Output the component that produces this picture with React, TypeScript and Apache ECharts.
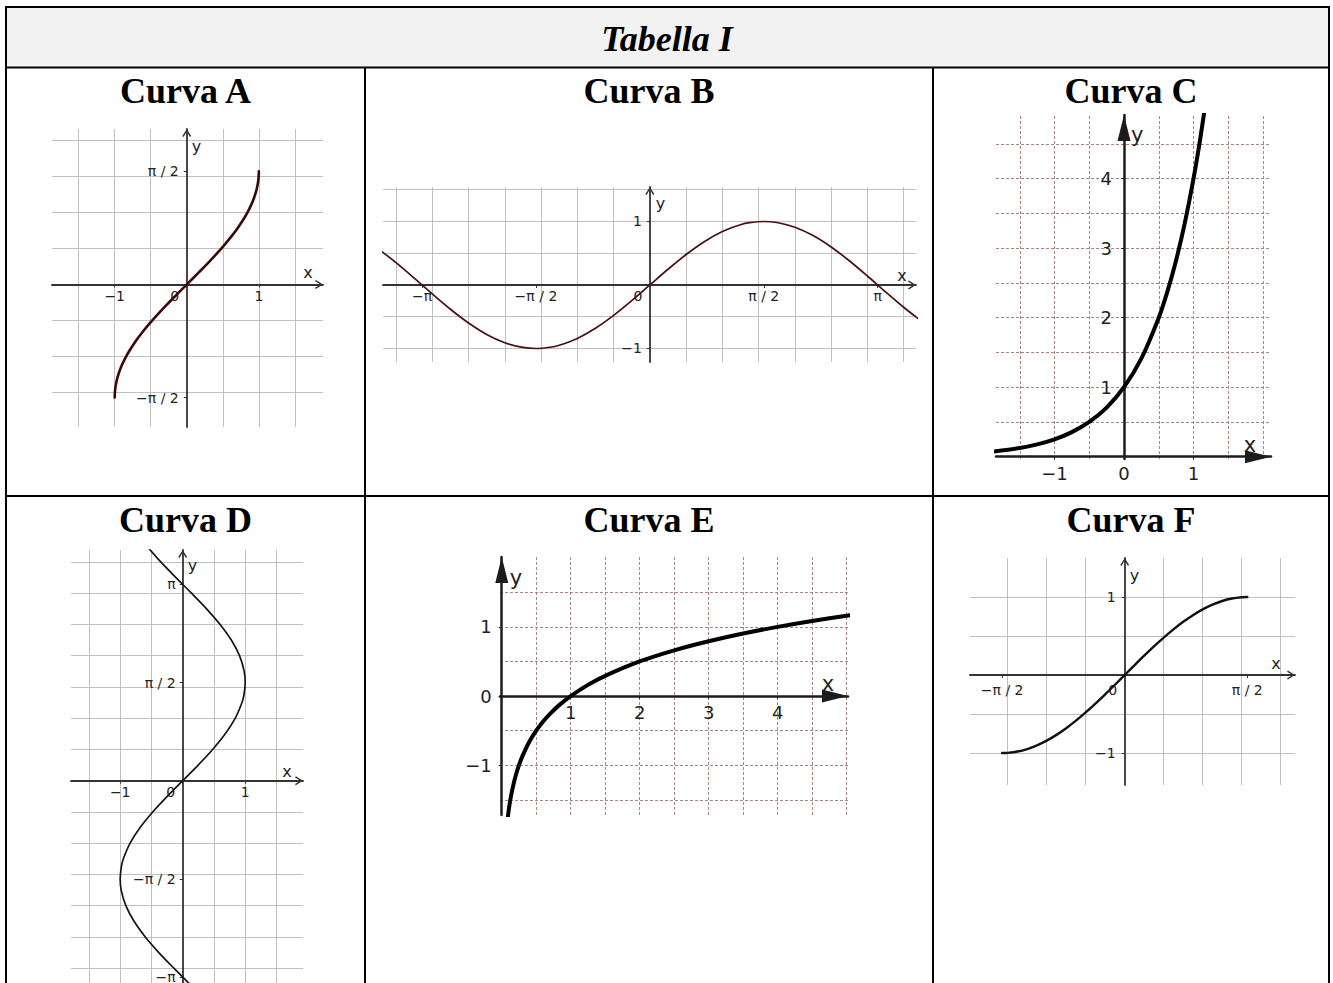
import React, { useEffect, useRef } from 'react';
import * as echarts from 'echarts';

// ---------------- texts ----------------
const TABLE_TITLE = 'Tabella I';
const CURVE_NAMES = ['Curva A', 'Curva B', 'Curva C', 'Curva D', 'Curva E', 'Curva F'];

// ---------------- curve data ----------------
const CURVE_A = [
  [-1, -1.5708], [-0.998, -1.5075], [-0.99, -1.4293], [-0.97, -1.3252], [-0.94, -1.2226],
  [-0.9, -1.1198], [-0.85, -1.016], [-0.8, -0.9273], [-0.7, -0.7754], [-0.6, -0.6435],
  [-0.5, -0.5236], [-0.4, -0.4115], [-0.3, -0.3047], [-0.2, -0.2014], [-0.1, -0.1002],
  [0, 0], [0.1, 0.1002], [0.2, 0.2014], [0.3, 0.3047], [0.4, 0.4115], [0.5, 0.5236],
  [0.6, 0.6435], [0.7, 0.7754], [0.8, 0.9273], [0.85, 1.016], [0.9, 1.1198], [0.94, 1.2226],
  [0.97, 1.3252], [0.99, 1.4293], [0.998, 1.5075], [1, 1.5708],
];
const CURVE_B = [
  [-3.7, 0.5298], [-3.5, 0.3508], [-3.25, 0.1082], [-3, -0.1411], [-2.75, -0.3817],
  [-2.5, -0.5985], [-2.25, -0.7781], [-2, -0.9093], [-1.75, -0.984], [-1.5708, -1],
  [-1.375, -0.9809], [-1.25, -0.949], [-1, -0.8415], [-0.75, -0.6816], [-0.5, -0.4794], [-0.25, -0.2474],
  [0, 0], [0.25, 0.2474], [0.5, 0.4794], [0.75, 0.6816], [1, 0.8415], [1.25, 0.949], [1.375, 0.9809],
  [1.5708, 1], [1.75, 0.984], [2, 0.9093], [2.25, 0.7781], [2.5, 0.5985], [2.75, 0.3817],
  [3, 0.1411], [3.25, -0.1082], [3.5, -0.3508], [3.7, -0.5298],
];
const CURVE_C = [
  [-1.9, 0.072], [-1.5, 0.125], [-1.25, 0.177], [-1, 0.25], [-0.75, 0.354], [-0.5, 0.5],
  [-0.25, 0.707], [0, 1], [0.25, 1.414], [0.5, 2], [0.625, 2.378], [0.75, 2.828],
  [0.875, 3.364], [1, 4], [1.1, 4.595], [1.2, 5.278],
];
const CURVE_D = [
  [0.5716, -3.75], [0.3508, -3.5], [0.1082, -3.25], [-0.1411, -3], [-0.3817, -2.75],
  [-0.5985, -2.5], [-0.7781, -2.25], [-0.9093, -2], [-0.984, -1.75], [-1, -1.5708],
  [-0.9809, -1.375], [-0.949, -1.25], [-0.8415, -1], [-0.6816, -0.75], [-0.4794, -0.5], [-0.2474, -0.25],
  [0, 0], [0.2474, 0.25], [0.4794, 0.5], [0.6816, 0.75], [0.8415, 1], [0.949, 1.25], [0.9809, 1.375],
  [1, 1.5708], [0.984, 1.75], [0.9093, 2], [0.7781, 2.25], [0.5985, 2.5], [0.3817, 2.75],
  [0.1411, 3], [-0.1082, 3.25], [-0.3508, 3.5], [-0.5716, 3.75],
];
const CURVE_E = [
  [0.06, -2.029], [0.07, -1.918], [0.08, -1.822], [0.1, -1.661], [0.12, -1.529],
  [0.15, -1.368], [0.2, -1.161], [0.25, -1.0], [0.3, -0.868], [0.4, -0.661], [0.5, -0.5],
  [0.6, -0.368], [0.7, -0.257], [0.85, -0.117], [1, 0], [1.25, 0.161], [1.5, 0.292],
  [2, 0.5], [2.5, 0.661], [3, 0.792], [3.5, 0.904], [4, 1], [4.5, 1.085], [5, 1.161],
  [5.1, 1.175],
];
const CURVE_F = [
  [-1.5708, -1], [-1.5, -0.9975], [-1.375, -0.9809], [-1.25, -0.949], [-1.125, -0.9022],
  [-1, -0.8415], [-0.875, -0.7675], [-0.75, -0.6816], [-0.625, -0.5851], [-0.5, -0.4794],
  [-0.375, -0.3663], [-0.25, -0.2474], [-0.125, -0.1247], [0, 0], [0.125, 0.1247],
  [0.25, 0.2474], [0.375, 0.3663], [0.5, 0.4794], [0.625, 0.5851], [0.75, 0.6816],
  [0.875, 0.7675], [1, 0.8415], [1.125, 0.9022], [1.25, 0.949], [1.375, 0.9809],
  [1.5, 0.9975], [1.5708, 1],
];

// ---------------- grid lines ----------------
const A_GRID_X = [-1.5, -1, -0.5, 0.5, 1, 1.5];
const A_GRID_Y = [-1.5, -1, -0.5, 0.5, 1, 1.5, 2];
const B_GRID_X = [-3.5, -3, -2.5, -2, -1.5, -1, -0.5, 0.5, 1, 1.5, 2, 2.5, 3, 3.5];
const B_GRID_Y = [-1, -0.5, 0.5, 1, 1.5];
const C_GRID_X = [-1.5, -1, -0.5, 0.5, 1, 1.5, 2];
const C_GRID_Y = [0.5, 1, 1.5, 2, 2.5, 3, 3.5, 4, 4.5];
const D_GRID_X = [-1.5, -1, -0.5, 0.5, 1, 1.5];
const D_GRID_Y = [-3, -2.5, -2, -1.5, -1, -0.5, 0.5, 1, 1.5, 2, 2.5, 3, 3.5];
const E_GRID_X = [0.5, 1, 1.5, 2, 2.5, 3, 3.5, 4, 4.5, 5];
const E_GRID_Y = [-1.5, -1, -0.5, 0.5, 1, 1.5];
const F_GRID_X = [-1.5, -1, -0.5, 0.5, 1, 1.5, 2];
const F_GRID_Y = [-1, -0.5, 0.5, 1];

// ---------------- tick labels ----------------
const A_X_TICKS = [-1, 0, 1];
const A_X_LABELS = ['−1', '0', '1'];
const A_Y_TICKS = [-1.5708, 1.5708];
const A_Y_LABELS = ['−π / 2', 'π / 2'];
const B_X_TICKS = [-3.1416, -1.5708, 0, 1.5708, 3.1416];
const B_X_LABELS = ['−π', '−π / 2', '0', 'π / 2', 'π'];
const B_Y_TICKS = [-1, 1];
const B_Y_LABELS = ['−1', '1'];
const C_X_TICKS = [-1, 0, 1];
const C_X_LABELS = ['−1', '0', '1'];
const C_Y_TICKS = [1, 2, 3, 4];
const C_Y_LABELS = ['1', '2', '3', '4'];
const D_X_TICKS = [-1, 0, 1];
const D_X_LABELS = ['−1', '0', '1'];
const D_Y_TICKS = [-3.1416, -1.5708, 1.5708, 3.1416];
const D_Y_LABELS = ['−π', '−π / 2', 'π / 2', 'π'];
const E_X_TICKS = [1, 2, 3, 4];
const E_X_LABELS = ['1', '2', '3', '4'];
const E_Y_TICKS = [-1, 0, 1];
const E_Y_LABELS = ['−1', '0', '1'];
const F_X_TICKS = [-1.5708, 0, 1.5708];
const F_X_LABELS = ['−π / 2', '0', 'π / 2'];
const F_Y_TICKS = [-1, 1];
const F_Y_LABELS = ['−1', '1'];

// ---------------- layout / style of each small plot ----------------
const PLOTS = [
  { box: [52, 129, 271, 298], xr: [-1.87, 1.89], yr: [-1.98, 2.16], gx: A_GRID_X, gy: A_GRID_Y,
    xt: A_X_TICKS, xl: A_X_LABELS, yt: A_Y_TICKS, yl: A_Y_LABELS, pts: CURVE_A, heavy: false,
    color: '#3d0707', lw: 2.6, xm: 5, ym: 8, xn: [15, 12], yn: [5, 17] },
  { box: [383, 187, 533, 175], xr: [-3.68, 3.67], yr: [-1.213, 1.543], gx: B_GRID_X, gy: B_GRID_Y,
    xt: B_X_TICKS, xl: B_X_LABELS, yt: B_Y_TICKS, yl: B_Y_LABELS, pts: CURVE_B, heavy: false,
    color: '#4a1010', lw: 1.7, xm: 4, ym: 8, xn: [14, 9], yn: [6, 16] },
  { box: [996, 115, 275, 344], xr: [-1.842, 2.115], yr: [-0.033, 4.917], gx: C_GRID_X, gy: C_GRID_Y,
    xt: C_X_TICKS, xl: C_X_LABELS, yt: C_Y_TICKS, yl: C_Y_LABELS, pts: CURVE_C, heavy: true,
    color: '#000000', lw: 4, xm: 8, ym: 12, xn: [21, 12], yn: [7, 20] },
  { box: [71, 550, 232, 433], xr: [-1.787, 1.925], yr: [-3.237, 3.691], gx: D_GRID_X, gy: D_GRID_Y,
    xt: D_X_TICKS, xl: D_X_LABELS, yt: D_Y_TICKS, yl: D_Y_LABELS, pts: CURVE_D, heavy: false,
    color: '#151515', lw: 1.7, xm: 4, ym: 7, xn: [16, 9], yn: [5, 15] },
  { box: [500, 557, 348, 258], xr: [-0.025, 5.02], yr: [-1.72, 2.01], gx: E_GRID_X, gy: E_GRID_Y,
    xt: E_X_TICKS, xl: E_X_LABELS, yt: E_Y_TICKS, yl: E_Y_LABELS, pts: CURVE_E, heavy: true,
    color: '#000000', lw: 4, xm: 7, ym: 10, xn: [20, 12], yn: [8, 21] },
  { box: [970, 558, 325, 227], xr: [-1.983, 2.183], yr: [-1.41, 1.5], gx: F_GRID_X, gy: F_GRID_Y,
    xt: F_X_TICKS, xl: F_X_LABELS, yt: F_Y_TICKS, yl: F_Y_LABELS, pts: CURVE_F, heavy: false,
    color: '#111111', lw: 2.4, xm: 8, ym: 9, xn: [19, 12], yn: [5, 17] },
];

const CHEVRON = 'path://M5,0 L10,8 L8.6,9 L5,2.8 L1.4,9 L0,8 Z';
const SERIF = '"Liberation Serif", "Times New Roman", serif';
const SANS = '"DejaVu Sans", sans-serif';

function buildOption() {
  const grid: any[] = [];
  const xAxis: any[] = [];
  const yAxis: any[] = [];
  const series: any[] = [];

  PLOTS.forEach((p, i) => {
    const [left, top, width, height] = p.box;
    grid.push({ left, top, width, height, containLabel: false, outerBoundsMode: 'none', show: false });
    // shift each axis from the grid edge onto the other axis' zero
    const xAxisShift = -height * (0 - p.yr[0]) / (p.yr[1] - p.yr[0]);
    const yAxisShift = -width * (0 - p.xr[0]) / (p.xr[1] - p.xr[0]);
    const axisColor = p.heavy ? '#1c1c1c' : '#333333';
    const labelSize = p.heavy ? 18 : 14;
    const nameSize = p.heavy ? 21 : 16;
    const arrow = p.heavy ? 'triangle' : CHEVRON;
    const arrowSize = p.heavy ? [13, 26] : [10, 8];
    const arrowOffset = p.heavy ? [0, -13] : [0, -4];
    const fmt = (ticks: number[], labels: string[]) => (v: number) => {
      const k = ticks.findIndex((t) => Math.abs(t - v) < 1e-6);
      if (k < 0) return '';
      const s = labels[k];
      return s === '0' && !p.heavy ? '{o|0}' : s;
    };
    const labelStyle = {
      fontFamily: SANS,
      fontSize: labelSize,
      color: '#222222',
      rich: { o: { fontFamily: SANS, fontSize: labelSize, color: '#222222', padding: [0, 24, 0, 0] } },
    };
    const lineStyle = { color: axisColor, width: p.heavy ? 2.5 : 1.8 };

    xAxis.push({
      gridIndex: i,
      type: 'value',
      min: p.xr[0],
      max: p.xr[1],
      position: 'bottom',
      offset: xAxisShift,
      z: 2,
      splitLine: { show: false },
      axisLine: { show: true, onZero: false, lineStyle, symbol: ['none', arrow], symbolSize: arrowSize, symbolOffset: arrowOffset },
      axisTick: { show: true, customValues: p.xt, length: 3, lineStyle: { color: axisColor, width: 1 } },
      axisLabel: { show: true, customValues: p.xt, formatter: fmt(p.xt, p.xl), margin: p.xm, ...labelStyle },
      name: 'x',
      nameLocation: 'end',
      nameGap: -p.xn[0],
      nameMoveOverlap: false,
      nameTextStyle: {
        fontFamily: SANS, fontSize: nameSize, color: '#222222', align: 'center', verticalAlign: 'bottom',
        lineHeight: 2 * p.xn[1],
      },
    });
    yAxis.push({
      gridIndex: i,
      type: 'value',
      min: p.yr[0],
      max: p.yr[1],
      position: 'left',
      offset: yAxisShift,
      z: 2,
      splitLine: { show: false },
      axisLine: { show: true, onZero: false, lineStyle, symbol: ['none', arrow], symbolSize: arrowSize, symbolOffset: arrowOffset },
      axisTick: { show: true, customValues: p.yt, length: 3, lineStyle: { color: axisColor, width: 1 } },
      axisLabel: { show: true, customValues: p.yt, formatter: fmt(p.yt, p.yl), margin: p.ym, ...labelStyle },
      name: 'y',
      nameLocation: 'end',
      nameGap: -p.yn[1],
      nameMoveOverlap: false,
      nameTextStyle: {
        fontFamily: SANS, fontSize: nameSize, color: '#222222', align: 'left', verticalAlign: 'middle',
        padding: [0, 0, 0, p.yn[0]],
      },
    });
    series.push({
      type: 'line',
      xAxisIndex: i,
      yAxisIndex: i,
      data: p.pts,
      showSymbol: false,
      symbol: 'none',
      smooth: 0.3,
      clip: true,
      silent: true,
      z: 3,
      lineStyle: { color: p.color, width: p.lw, cap: 'round' },
      markLine: {
        silent: true,
        symbol: ['none', 'none'],
        z: 1,
        animation: false,
        label: { show: false },
        emphasis: { disabled: true },
        lineStyle: { color: p.heavy ? '#a98585' : '#c0c0c0', width: 1, type: p.heavy ? [3, 2] : 'solid' },
        data: [...p.gx.map((v) => ({ xAxis: v })), ...p.gy.map((v) => ({ yAxis: v }))],
      },
    });
  });

  const border = { stroke: '#000000', lineWidth: 2 };
  const titlePos = [
    [185.5, 91], [649, 91], [1131, 91],
    [185.5, 520], [649, 520], [1131, 520],
  ];
  const graphic: any[] = [
    { type: 'rect', z: -10, shape: { x: 6, y: 7, width: 1323, height: 60 }, style: { fill: '#f2f2f2' } },
    { type: 'line', z: 10, shape: { x1: 5, y1: 7, x2: 1330, y2: 7 }, style: border },
    { type: 'line', z: 10, shape: { x1: 5, y1: 67.5, x2: 1330, y2: 67.5 }, style: border },
    { type: 'line', z: 10, shape: { x1: 5, y1: 496, x2: 1330, y2: 496 }, style: border },
    { type: 'line', z: 10, shape: { x1: 6, y1: 6, x2: 6, y2: 983 }, style: border },
    { type: 'line', z: 10, shape: { x1: 1329, y1: 6, x2: 1329, y2: 983 }, style: border },
    { type: 'line', z: 10, shape: { x1: 365, y1: 67, x2: 365, y2: 983 }, style: border },
    { type: 'line', z: 10, shape: { x1: 933, y1: 67, x2: 933, y2: 983 }, style: border },
    {
      type: 'text', z: 10, x: 667, y: 39,
      style: { text: TABLE_TITLE, fill: '#000', fontFamily: SERIF, fontSize: 36, fontWeight: 'bold', fontStyle: 'italic', align: 'center', verticalAlign: 'middle' },
    },
    ...CURVE_NAMES.map((n, k) => ({
      type: 'text', z: 10, x: titlePos[k][0], y: titlePos[k][1],
      style: { text: n, fill: '#000', fontFamily: SERIF, fontSize: 36, fontWeight: 'bold', align: 'center', verticalAlign: 'middle' },
    })),
  ];

  return {
    animation: false,
    backgroundColor: '#ffffff',
    textStyle: { fontFamily: SANS },
    grid,
    xAxis,
    yAxis,
    series,
    graphic,
  };
}

export default function App() {
  const ref = useRef<HTMLDivElement>(null);
  useEffect(() => {
    if (!ref.current) return;
    const chart = echarts.init(ref.current, undefined, { renderer: 'svg' });
    chart.setOption(buildOption() as any);
    return () => chart.dispose();
  }, []);
  return (
    <div
      ref={ref}
      style={{ position: 'fixed', left: 0, top: 0, width: 1333, height: 983, background: '#fff' }}
    />
  );
}
